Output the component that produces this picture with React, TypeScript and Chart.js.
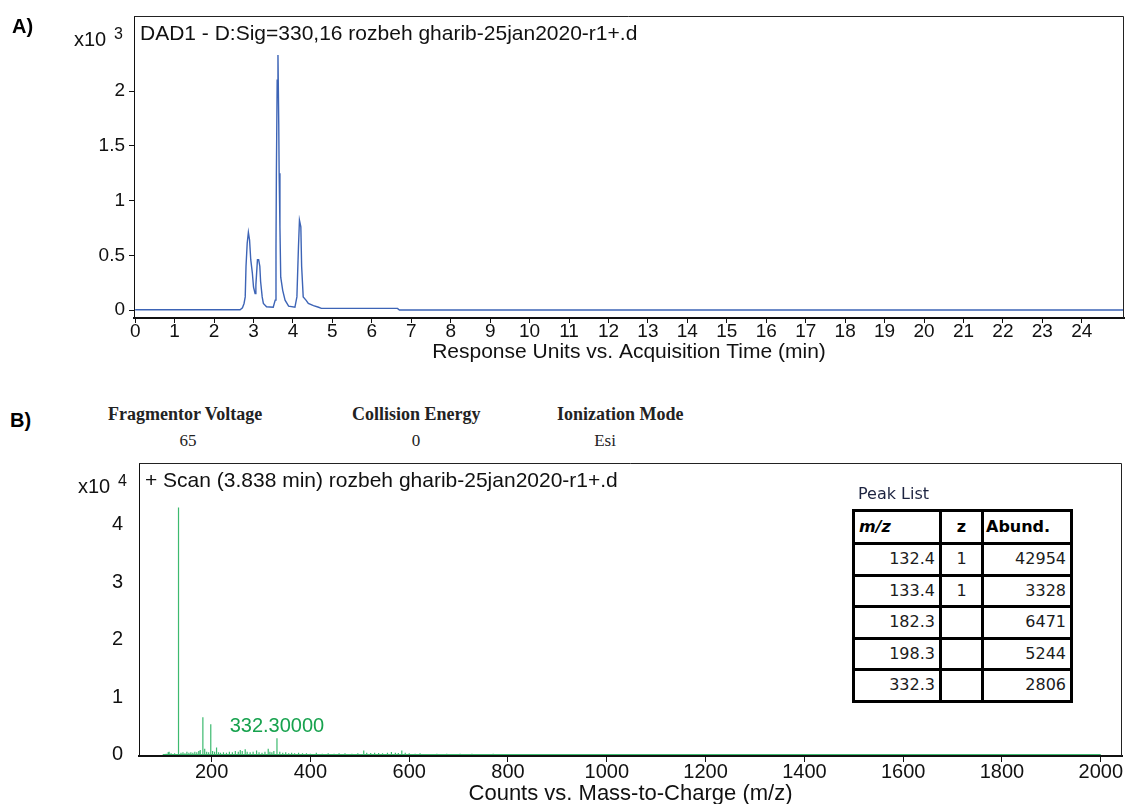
import React, { useEffect, useRef } from "react";
import { Chart, registerables } from "chart.js";
Chart.register(...registerables);

const FONT = '"Liberation Sans", Arial, sans-serif';
const SERIF = '"Liberation Serif", "Times New Roman", serif';
const TABLE_FONT = '"DejaVu Sans", Verdana, sans-serif';

// ---------- Panel A: chromatogram (response x10^3 vs time, min) ----------
const chromTitle = "DAD1 - D:Sig=330,16 rozbeh gharib-25jan2020-r1+.d";
const chromXTitle = "Response Units vs. Acquisition Time (min)";
const chromTime = [0, 2.66, 2.72, 2.76, 2.79, 2.81, 2.84, 2.87, 2.9, 2.93, 2.97, 3.0, 3.04, 3.06, 3.1, 3.13, 3.16, 3.18, 3.22, 3.25, 3.33, 3.5, 3.55, 3.57, 3.58, 3.6, 3.62, 3.64, 3.65, 3.67, 3.69, 3.74, 3.8, 3.89, 4.05, 4.1, 4.14, 4.165, 4.2, 4.22, 4.26, 4.33, 4.39, 4.52, 4.65, 4.72, 6.65, 6.7, 25.07];
const chromResp = [0.003, 0.003, 0.02, 0.06, 0.12, 0.4, 0.61, 0.71, 0.64, 0.46, 0.34, 0.21, 0.15, 0.23, 0.46, 0.46, 0.4, 0.26, 0.12, 0.06, 0.03, 0.025, 0.09, 0.55, 1.25, 2.1, 2.33, 1.7, 1.25, 0.76, 0.3, 0.18, 0.09, 0.035, 0.025, 0.12, 0.58, 0.82, 0.76, 0.4, 0.12, 0.09, 0.06, 0.04, 0.025, 0.015, 0.015, 0.0, 0.0];
const timeTicks = [0, 1, 2, 3, 4, 5, 6, 7, 8, 9, 10, 11, 12, 13, 14, 15, 16, 17, 18, 19, 20, 21, 22, 23, 24];
const respTicks = [0, 0.5, 1, 1.5, 2];

// ---------- Panel B: mass spectrum (counts x10^4 vs m/z) ----------
const msTitle = "+ Scan (3.838 min) rozbeh gharib-25jan2020-r1+.d";
const msXTitle = "Counts vs. Mass-to-Charge (m/z)";
const msMz = [108, 112, 114, 118, 125, 132.4, 133.4, 138, 142, 146, 150, 154, 158, 162, 166, 170, 174, 177, 182.3, 186, 190, 194, 198.3, 202, 206, 210, 214, 218, 224, 230, 236, 242, 248, 254, 258, 262, 268, 272, 278, 284, 291, 296, 302, 308, 314.6, 318, 322, 326, 332.3, 338, 344, 350, 356, 362, 368, 376, 384, 392, 400, 412, 424, 436, 448, 458, 470, 484, 496, 508, 514, 522, 530, 538, 546, 556, 564, 572, 578, 585, 592, 600, 612, 622, 640, 656, 676, 703, 727, 770];
const msAbund = [0.015, 0.04, 0.05, 0.02, 0.02, 4.2954, 0.3328, 0.03, 0.04, 0.02, 0.05, 0.03, 0.04, 0.03, 0.05, 0.04, 0.06, 0.08, 0.6471, 0.1, 0.05, 0.04, 0.5244, 0.06, 0.05, 0.12, 0.04, 0.03, 0.04, 0.03, 0.05, 0.04, 0.06, 0.05, 0.08, 0.06, 0.09, 0.05, 0.04, 0.05, 0.07, 0.04, 0.03, 0.05, 0.1, 0.05, 0.04, 0.06, 0.2806, 0.05, 0.03, 0.04, 0.02, 0.03, 0.02, 0.03, 0.02, 0.02, 0.015, 0.03, 0.015, 0.02, 0.015, 0.02, 0.02, 0.015, 0.02, 0.07, 0.03, 0.025, 0.03, 0.025, 0.02, 0.03, 0.045, 0.03, 0.025, 0.07, 0.03, 0.02, 0.015, 0.02, 0.01, 0.015, 0.015, 0.015, 0.015, 0.012];
const msRangeStart = 101;
const msRangeEnd = 2000;
const mzTicks = [200, 400, 600, 800, 1000, 1200, 1400, 1600, 1800, 2000];
const countTicks = [0, 1, 2, 3, 4];
const annotatedMz = 332.3;
const annotatedLabel = "332.30000";

// ---------- Peak list table ----------
const peakMz = ["132.4", "133.4", "182.3", "198.3", "332.3"];
const peakZ = ["1", "1", "", "", ""];
const peakAbund = ["42954", "3328", "6471", "5244", "2806"];

// ---------- Acquisition parameters ----------
const paramNames = ["Fragmentor Voltage", "Collision Energy", "Ionization Mode"];
const paramValues = ["65", "0", "Esi"];

function boxAndText(chart: any, title: string, exp: string, expPos: { x: number; y: number; sx: number; sy: number }) {
  const { ctx, chartArea: a } = chart;
  ctx.save();
  ctx.strokeStyle = "#222";
  ctx.lineWidth = 1;
  ctx.beginPath();
  ctx.moveTo(a.left, a.top + 0.5);
  ctx.lineTo(a.right - 0.5, a.top + 0.5);
  ctx.lineTo(a.right - 0.5, a.bottom);
  ctx.stroke();
  ctx.fillStyle = "#111";
  ctx.font = `21px ${FONT}`;
  ctx.textAlign = "left";
  ctx.textBaseline = "middle";
  ctx.fillText(title, a.left + 6, a.top + 18);
  ctx.textBaseline = "alphabetic";
  ctx.font = `20px ${FONT}`;
  ctx.fillText("x10", expPos.x, expPos.y);
  ctx.font = `16px ${FONT}`;
  ctx.fillText(exp, expPos.sx, expPos.sy);
  ctx.restore();
}

const noEdgePadding = (s: any) => {
  s.paddingTop = 0;
  s.paddingBottom = 0;
};

function ChromChart() {
  const ref = useRef<HTMLCanvasElement>(null);
  useEffect(() => {
    const data = chromTime.map((t, i) => ({ x: t, y: chromResp[i] }));
    const chart = new Chart(ref.current as HTMLCanvasElement, {
      type: "line",
      data: {
        datasets: [
          {
            data,
            borderColor: "#3d64b6",
            borderWidth: 1.4,
            pointRadius: 0,
            tension: 0,
            fill: false,
          },
        ],
      },
      options: {
        animation: false,
        responsive: false,
        maintainAspectRatio: false,
        layout: { padding: { top: 16, right: 2, left: 0, bottom: 0 } },
        plugins: { legend: { display: false }, tooltip: { enabled: false } },
        scales: {
          x: {
            type: "linear",
            min: -0.03,
            max: 25.07,
            afterBuildTicks: (s: any) => {
              s.ticks = timeTicks.map((v) => ({ value: v }));
            },
            afterFit: (s: any) => {
              s.height = 57;
            },
            ticks: {
              font: { family: FONT, size: 19, lineHeight: 1 },
              color: "#111",
              padding: -1,
              maxRotation: 0,
              autoSkip: false,
              callback: (v: any) => String(v),
            },
            grid: { display: true, drawOnChartArea: false, drawTicks: true, tickLength: 5, color: "#111", lineWidth: 1 },
            border: { display: true, color: "#111", width: 2 },
            title: {
              display: true,
              text: chromXTitle,
              font: { family: FONT, size: 21, lineHeight: 1 },
              color: "#111",
              padding: { top: 0, bottom: 12 },
            },
          },
          y: {
            type: "linear",
            min: -0.073,
            max: 2.687,
            afterBuildTicks: (s: any) => {
              s.ticks = respTicks.map((v) => ({ value: v }));
            },
            afterFit: (s: any) => {
              s.width = 134;
              noEdgePadding(s);
            },
            ticks: {
              font: { family: FONT, size: 19 },
              color: "#111",
              padding: 4,
              callback: (v: any) => String(v),
            },
            grid: { display: true, drawOnChartArea: false, drawTicks: true, tickLength: 5, color: "#111", lineWidth: 1 },
            border: { display: true, color: "#111", width: 1 },
          },
        },
      },
      plugins: [
        {
          id: "chromDecor",
          afterDraw: (chart: any) => boxAndText(chart, chromTitle, "3", { x: 74, y: 46, sx: 114, sy: 39 }),
        },
      ],
    } as any);
    return () => chart.destroy();
  }, []);
  return <canvas ref={ref} width={1126} height={375} style={{ position: "absolute", left: 0, top: 0 }} />;
}

function MsChart() {
  const ref = useRef<HTMLCanvasElement>(null);
  useEffect(() => {
    const pts: { x: number; y: number }[] = [{ x: msRangeStart, y: 0 }];
    msMz.forEach((m, i) => {
      pts.push({ x: m, y: 0 }, { x: m, y: msAbund[i] }, { x: m, y: 0 });
    });
    pts.push({ x: msRangeEnd, y: 0 });
    const chart = new Chart(ref.current as HTMLCanvasElement, {
      type: "line",
      data: {
        datasets: [
          {
            data: pts,
            borderColor: "#3dba6f",
            borderWidth: 1.2,
            pointRadius: 0,
            tension: 0,
            fill: false,
          },
        ],
      },
      options: {
        animation: false,
        responsive: false,
        maintainAspectRatio: false,
        layout: { padding: { top: 13, right: 4, left: 0, bottom: 0 } },
        plugins: { legend: { display: false }, tooltip: { enabled: false } },
        scales: {
          x: {
            type: "linear",
            min: 53,
            max: 2043,
            afterBuildTicks: (s: any) => {
              s.ticks = mzTicks.map((v) => ({ value: v }));
            },
            afterFit: (s: any) => {
              s.height = 48;
            },
            ticks: {
              font: { family: FONT, size: 20, lineHeight: 1 },
              color: "#111",
              padding: 0,
              maxRotation: 0,
              autoSkip: false,
              callback: (v: any) => String(v),
            },
            grid: { display: true, drawOnChartArea: false, drawTicks: true, tickLength: 6, color: "#111", lineWidth: 1 },
            border: { display: true, color: "#111", width: 2 },
            title: {
              display: true,
              text: msXTitle,
              font: { family: FONT, size: 22, lineHeight: 1 },
              color: "#111",
              padding: { top: 0, bottom: -1 },
            },
          },
          y: {
            type: "linear",
            min: -0.026,
            max: 5.07,
            afterBuildTicks: (s: any) => {
              s.ticks = countTicks.map((v) => ({ value: v }));
            },
            afterFit: (s: any) => {
              s.width = 139;
              noEdgePadding(s);
            },
            ticks: {
              font: { family: FONT, size: 20 },
              color: "#111",
              padding: 8,
              callback: (v: any) => String(v),
            },
            grid: { display: false },
            border: { display: true, color: "#111", width: 1 },
          },
        },
      },
      plugins: [
        {
          id: "msDecor",
          afterDraw: (chart: any) => {
            boxAndText(chart, msTitle, "4", { x: 78, y: 43, sx: 118, sy: 36 });
            const idx = msMz.indexOf(annotatedMz);
            const xs = chart.scales.x.getPixelForValue(annotatedMz);
            const ys = chart.scales.y.getPixelForValue(msAbund[idx]);
            const ctx = chart.ctx;
            ctx.save();
            ctx.fillStyle = "#17a24e";
            ctx.font = `20px ${FONT}`;
            ctx.textAlign = "center";
            ctx.textBaseline = "alphabetic";
            ctx.fillText(annotatedLabel, xs, ys - 6);
            ctx.restore();
          },
        },
      ],
    } as any);
    return () => chart.destroy();
  }, []);
  return <canvas ref={ref} width={1126} height={354} style={{ position: "absolute", left: 0, top: 450 }} />;
}

const abs = (left: number, top: number): React.CSSProperties => ({ position: "absolute", left, top, lineHeight: 1, whiteSpace: "nowrap" });

const paramNameX = [108, 352, 557];
const paramValueCx = [188, 416, 605];

const cell: React.CSSProperties = {
  border: "3px solid #000",
  padding: "0 4px",
  fontFamily: TABLE_FONT,
  fontSize: 16,
  color: "#1b1b1b",
  lineHeight: 1,
  height: 28.5,
};

export default function App() {
  return (
    <div style={{ position: "absolute", left: 0, top: 0, width: 1126, height: 804, background: "#fff", overflow: "hidden" }}>
      <ChromChart />
      <MsChart />
      <div style={{ ...abs(12, 16), fontFamily: FONT, fontWeight: "bold", fontSize: 20 }}>A)</div>
      <div style={{ ...abs(10, 410), fontFamily: FONT, fontWeight: "bold", fontSize: 20 }}>B)</div>
      {paramNames.map((n, i) => (
        <div key={n} style={{ ...abs(paramNameX[i], 405), fontFamily: SERIF, fontWeight: "bold", fontSize: 18, color: "#222" }}>
          {n}
        </div>
      ))}
      {paramValues.map((v, i) => (
        <div
          key={i}
          style={{ ...abs(paramValueCx[i] - 40, 432), width: 80, textAlign: "center", fontFamily: SERIF, fontSize: 17, color: "#222" }}
        >
          {v}
        </div>
      ))}
      <div style={{ ...abs(858, 486), fontFamily: TABLE_FONT, fontSize: 16, color: "#1c2340" }}>Peak List</div>
      <table
        style={{
          position: "absolute",
          left: 852,
          top: 509,
          width: 218,
          borderCollapse: "collapse",
          tableLayout: "fixed",
          background: "#fff",
        }}
      >
        <colgroup>
          <col style={{ width: 87 }} />
          <col style={{ width: 42 }} />
          <col style={{ width: 89 }} />
        </colgroup>
        <tbody>
          <tr>
            <td style={{ ...cell, height: 30, fontWeight: "bold", fontStyle: "italic", textAlign: "left", color: "#000" }}>m/z</td>
            <td style={{ ...cell, height: 30, fontWeight: "bold", textAlign: "center", color: "#000" }}>z</td>
            <td style={{ ...cell, height: 30, fontWeight: "bold", textAlign: "left", color: "#000", padding: "0 2px" }}>Abund.</td>
          </tr>
          {peakMz.map((m, i) => (
            <tr key={m}>
              <td style={{ ...cell, textAlign: "right" }}>{m}</td>
              <td style={{ ...cell, textAlign: "center" }}>{peakZ[i]}</td>
              <td style={{ ...cell, textAlign: "right" }}>{peakAbund[i]}</td>
            </tr>
          ))}
        </tbody>
      </table>
    </div>
  );
}
